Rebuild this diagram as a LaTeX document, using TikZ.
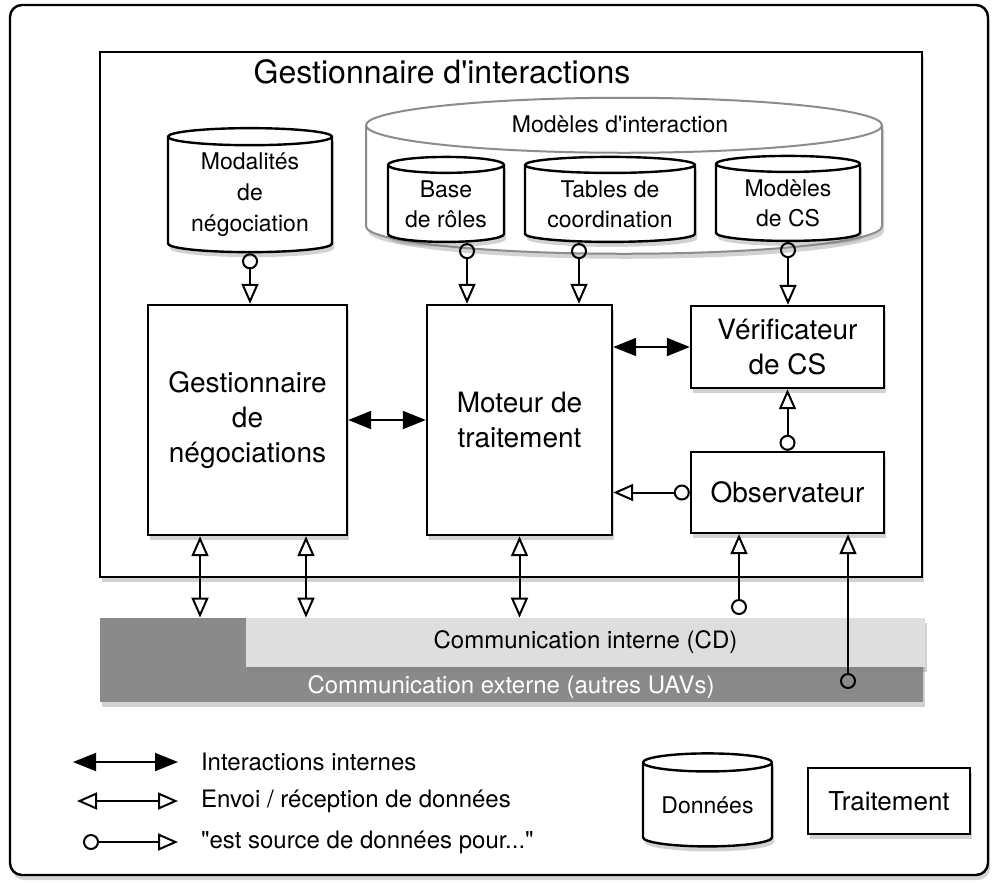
\documentclass[tikz,border=0pt]{standalone}
\usepackage{fontspec}
\setmainfont{TeX Gyre Heros}
\usetikzlibrary{shapes.geometric,arrows.meta,shadows}

\definecolor{barfonce}{gray}{0.54}
\definecolor{barclair}{gray}{0.87}
\definecolor{bordgris}{gray}{0.55}

\tikzset{
  ombre/.style={drop shadow={shadow xshift=1pt, shadow yshift=-2.5pt, opacity=.35}},
  bloc/.style={draw, fill=white, line width=1.2pt, align=center, ombre, font=\fontsize{14}{17.5}\selectfont},
  base/.style={cylinder, shape border rotate=90, draw, fill=white, line width=1.2pt, align=center, ombre, inner sep=0pt, font=\fontsize{11.5}{15}\selectfont},
  interne/.style={line width=1pt, {Triangle[length=11.5pt,width=9pt]}-{Triangle[length=11.5pt,width=9pt]}},
  donnees/.style={line width=1pt, {Triangle[open,length=10pt,width=8.5pt]}-{Triangle[open,length=10pt,width=8.5pt]}},
  source/.style={line width=1pt, {Circle[open,length=8pt]}-{Triangle[open,length=10pt,width=8.5pt]}},
  legende/.style={anchor=west, font=\fontsize{12}{14}\selectfont}
}

\begin{document}
\begin{tikzpicture}[x=0.5pt, y=-0.5pt]

    \useasboundingbox (0,0) rectangle (1000,885);

    \node[draw, rounded corners=6pt, line width=1.2pt, fill=white, ombre, minimum width=489pt, minimum height=435pt] (Cadre) at (499,440) {};

    \node[bloc, minimum width=411pt, minimum height=262.5pt] (GI) at (511,314.5) {};
    \node[font=\fontsize{16}{19}\selectfont] (Titre) at (442,72) {Gestionnaire d\textquotesingle interactions};

    \node[base, draw=bordgris, line width=1pt, minimum width=258pt, minimum height=78pt, aspect=.11] (MI) at (624,190) {\hspace*{250pt}};
    \node[font=\fontsize{11.5}{14}\selectfont] (MItxt) at (620,124) {Modèles d\textquotesingle interaction};

    \node[base, minimum width=58pt, minimum height=42.5pt, aspect=.195] (Roles) at (446,204) {Base\\de rôles};
    \node[base, minimum width=85pt, minimum height=42.5pt, aspect=.128] (Tables) at (610,204) {Tables de\\coordination};
    \node[base, minimum width=72pt, minimum height=42.5pt, aspect=.184] (ModCS) at (788,203) {Modèles\\de CS};
    \node[base, minimum width=82pt, minimum height=62pt, aspect=.145, font=\fontsize{11.5}{15.5}\selectfont] (Modal) at (250,195) {Modalités\\de\\négociation};

    \node[bloc, minimum width=99.5pt, minimum height=115pt] (Nego) at (247.5,420) {Gestionnaire\\de\\négociations};
    \node[bloc, minimum width=92.5pt, minimum height=115pt] (Moteur) at (519.5,420) {Moteur de\\traitement};
    \node[bloc, minimum width=96.5pt, minimum height=41pt] (Verif) at (787.5,347) {Vérificateur\\de CS};
    \node[bloc, minimum width=96.5pt, minimum height=40.5pt] (Obs) at (787.5,492.5) {Observateur};

    \node[fill=barfonce, inner sep=0pt, ombre, minimum width=411.5pt, minimum height=42pt] (Externe) at (511.5,660) {};
    \node[text=white, font=\fontsize{12}{14}\selectfont] (ExtTxt) at (511,687) {Communication externe (autres UAVs)};
    \node[fill=barclair, inner sep=0pt, ombre, minimum width=339.5pt, minimum height=24.5pt, font=\fontsize{12}{14}\selectfont] (Interne) at (585.5,642.5) {Communication interne (CD)};

    \draw[source] (Modal.south) -- (Modal.south |- Nego.north);
    \draw[source] ([xshift=10.5pt]Roles.south) -- ([xshift=10.5pt]Roles.south |- Moteur.north);
    \draw[source] ([xshift=-15.5pt]Tables.south) -- ([xshift=-15.5pt]Tables.south |- Moteur.north);
    \draw[source] (ModCS.south) -- (ModCS.south |- Verif.north);

    \draw[interne] (Nego.east) -- (Moteur.west);
    \draw[interne] (Verif.west -| Moteur.east) -- (Verif.west);
    \draw[source] (Obs.north) -- (Verif.south);
    \draw[source] (Obs.west) -- (Obs.west -| Moteur.east);

    \draw[donnees] ([xshift=-23.75pt]Nego.south) -- ([xshift=-23.75pt]Nego.south |- Externe.north);
    \draw[donnees] ([xshift=29.25pt]Nego.south) -- ([xshift=29.25pt]Nego.south |- Externe.north);
    \draw[donnees] (Moteur.south) -- (Moteur.south |- Externe.north);

    \coordinate (SrcInt) at (739,615);
    \coordinate (SrcExt) at (848,689);
    \draw[source] (SrcInt) -- (SrcInt |- Obs.south);
    \draw[source] (SrcExt) -- (SrcExt |- Obs.south);

    \coordinate (LegA) at (73,762);
    \coordinate (LegB) at (77,801);
    \coordinate (LegC) at (83,842);
    \node[legende] (Leg1) at (194,762) {Interactions internes};
    \node[legende] (Leg2) at (194,801) {Envoi / réception de données};
    \node[legende] (Leg3) at (194,842) {\textquotedbl est source de données pour...\textquotedbl};
    \draw[interne] (LegA) -- (LegA -| 178,0);
    \draw[donnees] (LegB) -- (LegB -| 178,0);
    \draw[source] (LegC) -- (LegC -| 178,0);

    \node[base, minimum width=64.5pt, minimum height=46.5pt, aspect=.196] (LegDonnees) at (707.5,805) {Données};
    \node[bloc, minimum width=81pt, minimum height=33pt, font=\fontsize{13}{15}\selectfont] (LegTraitement) at (889,801) {Traitement};

\end{tikzpicture}
\end{document}
